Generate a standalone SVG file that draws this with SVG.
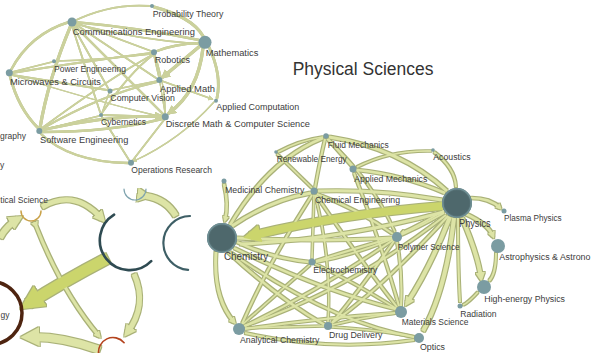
<svg xmlns="http://www.w3.org/2000/svg" width="591" height="353" viewBox="0 0 591 353">
<style>
  text { font-family: "Liberation Sans", Arial, sans-serif; font-size: 8.5px; fill: #3c3c3c; }
  text.big { font-size: 10.5px; }
  text.title { font-size: 17.5px; fill: #333; }
  .thin path { fill: none; stroke: #cbd19c; stroke-linecap: round; }
  .band path { fill: none; stroke: #dde4a6; stroke-linecap: butt; }
  .band path.hot { stroke: #cbd56c; }
  .n { fill: #7b9ca2; }
  .ring { fill: none; stroke-linecap: round; }
</style>
<defs>
  <filter id="rim" x="-5%" y="-5%" width="110%" height="110%">
    <feMorphology in="SourceAlpha" operator="dilate" radius="0.6" result="d"/>
    <feFlood flood-color="#a9b177"/>
    <feComposite in2="d" operator="in" result="o"/>
    <feMerge><feMergeNode in="o"/><feMergeNode in="SourceGraphic"/></feMerge>
  </filter>
  <filter id="rimThin" x="-5%" y="-5%" width="110%" height="110%">
    <feMorphology in="SourceAlpha" operator="dilate" radius="0.35" result="d"/>
    <feFlood flood-color="#b3ba84"/>
    <feComposite in2="d" operator="in" result="o"/>
    <feMerge><feMergeNode in="o"/><feMergeNode in="SourceGraphic"/></feMerge>
  </filter>
  <marker id="ah" viewBox="0 0 10 10" refX="6" refY="5" markerWidth="2.4" markerHeight="2.4" orient="auto" markerUnits="strokeWidth">
    <path d="M0,0 L10,5 L0,10 Z" fill="#dde4a6"/>
  </marker>
  <marker id="ahHot" viewBox="0 0 10 10" refX="6" refY="5" markerWidth="2.2" markerHeight="2.2" orient="auto" markerUnits="strokeWidth">
    <path d="M0,0 L10,5 L0,10 Z" fill="#cbd56c"/>
  </marker>
  <marker id="ahs" viewBox="0 0 10 10" refX="7" refY="5" markerWidth="3" markerHeight="3" orient="auto" markerUnits="strokeWidth">
    <path d="M0,0 L10,5 L0,10 Z" fill="#cbd19c"/>
  </marker>
  <radialGradient id="bigNode" cx="0.5" cy="0.5" r="0.5">
    <stop offset="0.8" stop-color="#4e686c"/>
    <stop offset="1" stop-color="#5f7c81"/>
  </radialGradient>
</defs>

<!-- heading -->
<text class="title" x="292.7" y="75" textLength="140.7" lengthAdjust="spacingAndGlyphs">Physical Sciences</text>

<!-- connectors: upper-left cluster -->
<g id="edges-math" class="thin" filter="url(#rimThin)">
  <path d="M72,22 Q110,3 150,6" stroke-width="1.8"/>
  <path d="M74,22 Q140,28 199,40" stroke-width="2.4"/>
  <path d="M75,24 Q140,40 199,44" stroke-width="1.5"/>
  <path d="M154,7 Q192,17 203,36" stroke-width="3"/>
  <path d="M69,22 Q30,34 11,70" stroke-width="2.4"/>
  <path d="M71,25 Q48,80 40,128" stroke-width="3.2"/>
  <path d="M72,26 L100,112" stroke-width="1.8"/>
  <path d="M73,26 L108,88" stroke-width="1.8"/>
  <path d="M74,25 L163,114" stroke-width="2.4"/>
  <path d="M75,24 L156,78" stroke-width="1.8"/>
  <path d="M76,23 L151,51" stroke-width="1.8"/>
  <path d="M12,72 L52,62" stroke-width="1.3"/>
  <path d="M12,73 Q80,62 151,53" stroke-width="1.8"/>
  <path d="M56,61 Q100,60 151,54" stroke-width="1.3"/>
  <path d="M12,75 L107,90" stroke-width="1.8"/>
  <path d="M10,76 Q18,108 38,128" stroke-width="2.8"/>
  <path d="M12,75 Q90,100 162,117" stroke-width="1.3"/>
  <path d="M42,130 Q100,116 161,116" stroke-width="2.8" marker-end="url(#ahs)"/>
  <path d="M42,132 Q110,132 162,119" stroke-width="2.4"/>
  <path d="M42,129 Q100,95 157,82" stroke-width="1.8"/>
  <path d="M42,128 Q110,78 152,55" stroke-width="1.8"/>
  <path d="M42,130 L99,116" stroke-width="1.8"/>
  <path d="M41,134 Q70,162 128,163" stroke-width="2.4"/>
  <path d="M103,115 L162,117" stroke-width="1.8"/>
  <path d="M102,117 L129,160" stroke-width="1.8"/>
  <path d="M102,113 Q130,72 153,55" stroke-width="1.8"/>
  <path d="M112,90 L157,81" stroke-width="1.3"/>
  <path d="M109,93 L102,113" stroke-width="1.3"/>
  <path d="M154,55 L159,77" stroke-width="1.8"/>
  <path d="M155,55 Q166,90 165,113" stroke-width="1.3"/>
  <path d="M199,43 Q175,44 157,51" stroke-width="2.4"/>
  <path d="M200,46 L163,77" stroke-width="3.2" marker-end="url(#ahs)"/>
  <path d="M203,48 Q198,92 169,113" stroke-width="3.2" marker-end="url(#ahs)"/>
  <path d="M209,47 Q222,75 217,98" stroke-width="2.8"/>
  <path d="M162,81 L212,99" stroke-width="1.8" marker-end="url(#ahs)"/>
  <path d="M214,102 Q180,140 134,161" stroke-width="1.3" marker-end="url(#ahs)"/>
  <path d="M164,120 L133,160" stroke-width="1.8"/>
  <path d="M160,83 L165,113" stroke-width="1.3"/>
</g>

<!-- connectors: physical sciences cluster -->
<g id="edges-phys" class="band" filter="url(#rim)">
  <path d="M444,212 Q340,240 240,244" stroke-width="3"/>
  <path d="M442,200 Q380,189 318,191" stroke-width="3"/>
  <path d="M447,191 Q400,148 329,137" stroke-width="3"/>
  <path d="M445,193 Q400,174 357,170" stroke-width="2.5"/>
  <path d="M434,152 Q455,168 456,187" stroke-width="2"/>
  <path d="M431,151 Q390,150 357,167" stroke-width="1.5"/>
  <path d="M471,198 Q490,198 500,208" stroke-width="2.5" marker-end="url(#ah)"/>
  <path d="M466,214 Q488,224 493,236" stroke-width="3" marker-end="url(#ah)"/>
  <path d="M462,218 Q478,255 481,278" stroke-width="4" marker-end="url(#ah)"/>
  <path d="M458,218 Q458,270 460,302" stroke-width="2"/>
  <path d="M496,253 Q496,274 489,281" stroke-width="2"/>
  <path d="M478,292 Q468,303 463,305" stroke-width="1.5"/>
  <path d="M450,217 Q430,268 407,303" stroke-width="4" marker-end="url(#ah)"/>
  <path d="M454,218 Q446,290 423,331" stroke-width="4"/>
  <path d="M445,210 Q420,225 402,233" stroke-width="2" marker-end="url(#ah)"/>
  <path d="M444,213 Q380,250 316,262" stroke-width="2"/>
  <path d="M446,215 Q350,290 244,326" stroke-width="2"/>
  <path d="M448,216 Q380,290 332,323" stroke-width="2"/>
  <path d="M224,184 Q229,205 225,220" stroke-width="2.5" marker-end="url(#ah)"/>
  <path d="M232,226 Q270,200 311,193" stroke-width="3"/>
  <path d="M230,225 Q268,160 323,138" stroke-width="2.5"/>
  <path d="M216,252 Q213,298 234,322" stroke-width="3" marker-end="url(#ah)"/>
  <path d="M228,252 Q280,300 325,325" stroke-width="2.5"/>
  <path d="M234,248 Q320,290 396,309" stroke-width="2.5"/>
  <path d="M237,242 Q270,258 309,262" stroke-width="2.5"/>
  <path d="M237,238 Q320,242 392,238" stroke-width="3"/>
  <path d="M230,252 Q330,322 414,337" stroke-width="2"/>
  <path d="M315,188 Q320,160 325,139" stroke-width="2"/>
  <path d="M278,152 Q300,140 323,137" stroke-width="1.5"/>
  <path d="M277,154 L312,188" stroke-width="1.5"/>
  <path d="M317,194 Q360,210 393,234" stroke-width="2"/>
  <path d="M316,195 Q360,260 397,307" stroke-width="2"/>
  <path d="M312,195 Q270,260 242,324" stroke-width="2"/>
  <path d="M314,195 L312,258" stroke-width="1.5"/>
  <path d="M315,195 Q332,260 328,322" stroke-width="1.5"/>
  <path d="M354,173 Q380,240 399,306" stroke-width="2"/>
  <path d="M352,166 L328,139" stroke-width="2"/>
  <path d="M327,139 Q372,180 395,232" stroke-width="1.5"/>
  <path d="M397,242 Q403,275 401,306" stroke-width="2"/>
  <path d="M393,240 Q320,290 245,326" stroke-width="2"/>
  <path d="M394,241 Q360,290 332,323" stroke-width="2"/>
  <path d="M392,238 Q350,250 316,261" stroke-width="2"/>
  <path d="M395,313 Q320,318 245,329" stroke-width="2"/>
  <path d="M396,313 Q360,318 332,325" stroke-width="1.5"/>
  <path d="M397,309 Q350,280 315,264" stroke-width="1.5"/>
  <path d="M310,265 Q270,300 243,324" stroke-width="1.5"/>
  <path d="M245,333 Q330,352 414,340" stroke-width="2"/>
  <path d="M245,328 L324,326" stroke-width="1.5"/>
  <path d="M332,327 Q380,330 414,337" stroke-width="1.5"/>
  <path class="hot" d="M443,206 Q340,214 250,236" stroke-width="8" marker-end="url(#ahHot)"/>
</g>

<!-- connectors: lower-left cluster -->
<g id="edges-social" class="band" filter="url(#rim)">
  <path d="M42,207 Q75,188 102,219" stroke-width="5" marker-end="url(#ah)"/>
  <path d="M0,238 Q6,226 18,219" stroke-width="6" marker-end="url(#ah)"/>
  <path d="M36,226 Q62,292 99,336" stroke-width="3" marker-end="url(#ah)" marker-start="url(#ah)"/>
  <path d="M134,274 Q148,305 127,333" stroke-width="5" marker-end="url(#ah)"/>
  <path d="M100,350 Q62,336 28,337" stroke-width="8" marker-end="url(#ah)"/>
  <path d="M146,196 Q166,199 176,216" stroke-width="6" marker-start="url(#ah)"/>
  <path class="hot" d="M108,258 Q62,282 28,304" stroke-width="11" marker-end="url(#ahHot)"/>
</g>

<!-- lower-left nodes (drawn as open rings) -->
<g id="node-politics">
  <path class="ring" d="M21,211 A10,10 0 0 0 41,211" stroke="#c9a24a" stroke-width="1.5"/>
  <text x="48" y="203" text-anchor="end">tical Science</text>
</g>
<g id="node-biology">
  <circle cx="-9.5" cy="313" r="31.5" fill="none" stroke="#4e2410" stroke-width="3.5"/>
  <text x="9.5" y="317.5" text-anchor="end">gy</text>
</g>
<g id="node-social-a">
  <path class="ring" d="M98.7,354.5 A14.5,14.5 0 0 1 124.1,342.7" stroke="#b4431e" stroke-width="1.6"/>
</g>
<g id="node-social-b">
  <path class="ring" d="M151.2,261.2 A30,30 0 1 1 114.1,214.6" stroke="#2f4b52" stroke-width="2.6"/>
</g>
<g id="node-social-c">
  <path class="ring" d="M188.1,269.9 A27,27 0 0 1 190,216" stroke="#3e5f66" stroke-width="2.2"/>
</g>
<g id="node-social-d">
  <path class="ring" d="M124,189 A11,11 0 0 0 146,189" stroke="#7fa3ae" stroke-width="1.2"/>
</g>

<!-- mathematics cluster nodes -->
<g id="node-comm-eng"><circle class="n" cx="72" cy="22" r="4.5"/><text x="72.7" y="35" textLength="122.3" lengthAdjust="spacingAndGlyphs">Communications Engineering</text></g>
<g id="node-prob"><circle class="n" cx="152" cy="6" r="2"/><text x="152.7" y="16.7" textLength="70.6" lengthAdjust="spacingAndGlyphs">Probability Theory</text></g>
<g id="node-math"><circle class="n" cx="205" cy="42.3" r="6.5"/><text x="205.7" y="56" textLength="52.6" lengthAdjust="spacingAndGlyphs">Mathematics</text></g>
<g id="node-robotics"><circle class="n" cx="154" cy="52.3" r="3"/><text x="154.7" y="63.3" textLength="35.3" lengthAdjust="spacingAndGlyphs">Robotics</text></g>
<g id="node-power"><circle class="n" cx="54" cy="61.3" r="2"/><text x="54" y="71.7" textLength="72" lengthAdjust="spacingAndGlyphs">Power Engineering</text></g>
<g id="node-microwaves"><circle class="n" cx="9.3" cy="72.7" r="3.5"/><text x="10" y="85.3" textLength="91" lengthAdjust="spacingAndGlyphs">Microwaves &amp; Circuits</text></g>
<g id="node-applied-math"><circle class="n" cx="159.3" cy="80" r="3"/><text x="160" y="91.7" textLength="55" lengthAdjust="spacingAndGlyphs">Applied Math</text></g>
<g id="node-vision"><circle class="n" cx="110" cy="91" r="2.5"/><text x="110.3" y="101" textLength="64.7" lengthAdjust="spacingAndGlyphs">Computer Vision</text></g>
<g id="node-applied-comp"><circle class="n" cx="216" cy="100.7" r="2"/><text x="216.3" y="110" textLength="83" lengthAdjust="spacingAndGlyphs">Applied Computation</text></g>
<g id="node-cybernetics"><circle class="n" cx="101" cy="115" r="2"/><text x="101" y="125" textLength="45" lengthAdjust="spacingAndGlyphs">Cybernetics</text></g>
<g id="node-discrete"><circle class="n" cx="165.3" cy="116.7" r="3.5"/><text x="165.7" y="126.7" textLength="144.3" lengthAdjust="spacingAndGlyphs">Discrete Math &amp; Computer Science</text></g>
<g id="node-software"><circle class="n" cx="39.3" cy="131" r="3"/><text x="40" y="142.7" textLength="88.3" lengthAdjust="spacingAndGlyphs">Software Engineering</text></g>
<g id="node-ops"><circle class="n" cx="131" cy="162.7" r="3"/><text x="131.3" y="172.7" textLength="80.7" lengthAdjust="spacingAndGlyphs">Operations Research</text></g>
<g id="node-geography"><text x="26" y="139.3" text-anchor="end">graphy</text></g>
<g id="node-left-y"><text x="0" y="168">y</text></g>

<!-- physical sciences cluster nodes -->
<g id="node-fluid"><circle class="n" cx="326" cy="136" r="2.7"/><text x="327.7" y="148.3" textLength="61" lengthAdjust="spacingAndGlyphs">Fluid Mechanics</text></g>
<g id="node-renewable"><circle class="n" cx="276" cy="152" r="1.8"/><text x="276.7" y="161.7" textLength="70" lengthAdjust="spacingAndGlyphs">Renewable Energy</text></g>
<g id="node-acoustics"><circle class="n" cx="433" cy="150" r="1.8"/><text x="433.3" y="160" textLength="37.3" lengthAdjust="spacingAndGlyphs">Acoustics</text></g>
<g id="node-applied-mech"><circle class="n" cx="353" cy="169" r="3.5"/><text x="354.3" y="181.7" textLength="73" lengthAdjust="spacingAndGlyphs">Applied Mechanics</text></g>
<g id="node-medicinal"><circle class="n" cx="224" cy="181" r="2.5"/><text x="225" y="192.7" textLength="79.3" lengthAdjust="spacingAndGlyphs">Medicinal Chemistry</text></g>
<g id="node-chem-eng"><circle class="n" cx="314" cy="191" r="3.5"/><text x="315" y="203.3" textLength="85" lengthAdjust="spacingAndGlyphs">Chemical Engineering</text></g>
<g id="node-physics"><circle cx="457" cy="203" r="15" fill="url(#bigNode)"/><circle cx="457" cy="203" r="14.2" fill="none" stroke="#6f8f94" stroke-width="1.6"/><text class="big" x="459" y="226.7" textLength="31.7" lengthAdjust="spacingAndGlyphs">Physics</text></g>
<g id="node-plasma"><circle class="n" cx="504" cy="211" r="2.5"/><text x="504" y="221" textLength="57.7" lengthAdjust="spacingAndGlyphs">Plasma Physics</text></g>
<g id="node-chemistry"><circle cx="222" cy="238" r="15" fill="url(#bigNode)"/><circle cx="222" cy="238" r="14.2" fill="none" stroke="#6f8f94" stroke-width="1.6"/><text class="big" x="224" y="260" textLength="44.3" lengthAdjust="spacingAndGlyphs">Chemistry</text></g>
<g id="node-polymer"><circle class="n" cx="397" cy="237" r="5"/><text x="397.7" y="250" textLength="62" lengthAdjust="spacingAndGlyphs">Polymer Science</text></g>
<g id="node-astro"><circle class="n" cx="498" cy="246" r="7"/><text x="499.3" y="260" textLength="91.2" lengthAdjust="spacingAndGlyphs">Astrophysics &amp; Astrono</text></g>
<g id="node-electrochem"><circle class="n" cx="312" cy="262" r="3.5"/><text x="313.3" y="273.3" textLength="64" lengthAdjust="spacingAndGlyphs">Electrochemistry</text></g>
<g id="node-high-energy"><circle class="n" cx="484" cy="287" r="7"/><text x="484.3" y="301.7" textLength="80.7" lengthAdjust="spacingAndGlyphs">High-energy Physics</text></g>
<g id="node-radiation"><circle class="n" cx="460" cy="306" r="2.5"/><text x="460.3" y="316.7" textLength="36.3" lengthAdjust="spacingAndGlyphs">Radiation</text></g>
<g id="node-materials"><circle class="n" cx="401" cy="312" r="6"/><text x="401.7" y="325" textLength="66.7" lengthAdjust="spacingAndGlyphs">Materials Science</text></g>
<g id="node-analytical"><circle class="n" cx="239" cy="329" r="6"/><text x="240" y="342.7" textLength="79.3" lengthAdjust="spacingAndGlyphs">Analytical Chemistry</text></g>
<g id="node-drug"><circle class="n" cx="328" cy="326" r="4"/><text x="329" y="338.3" textLength="53.3" lengthAdjust="spacingAndGlyphs">Drug Delivery</text></g>
<g id="node-optics"><circle class="n" cx="419" cy="338" r="5"/><text x="420" y="350" textLength="25" lengthAdjust="spacingAndGlyphs">Optics</text></g>
</svg>
